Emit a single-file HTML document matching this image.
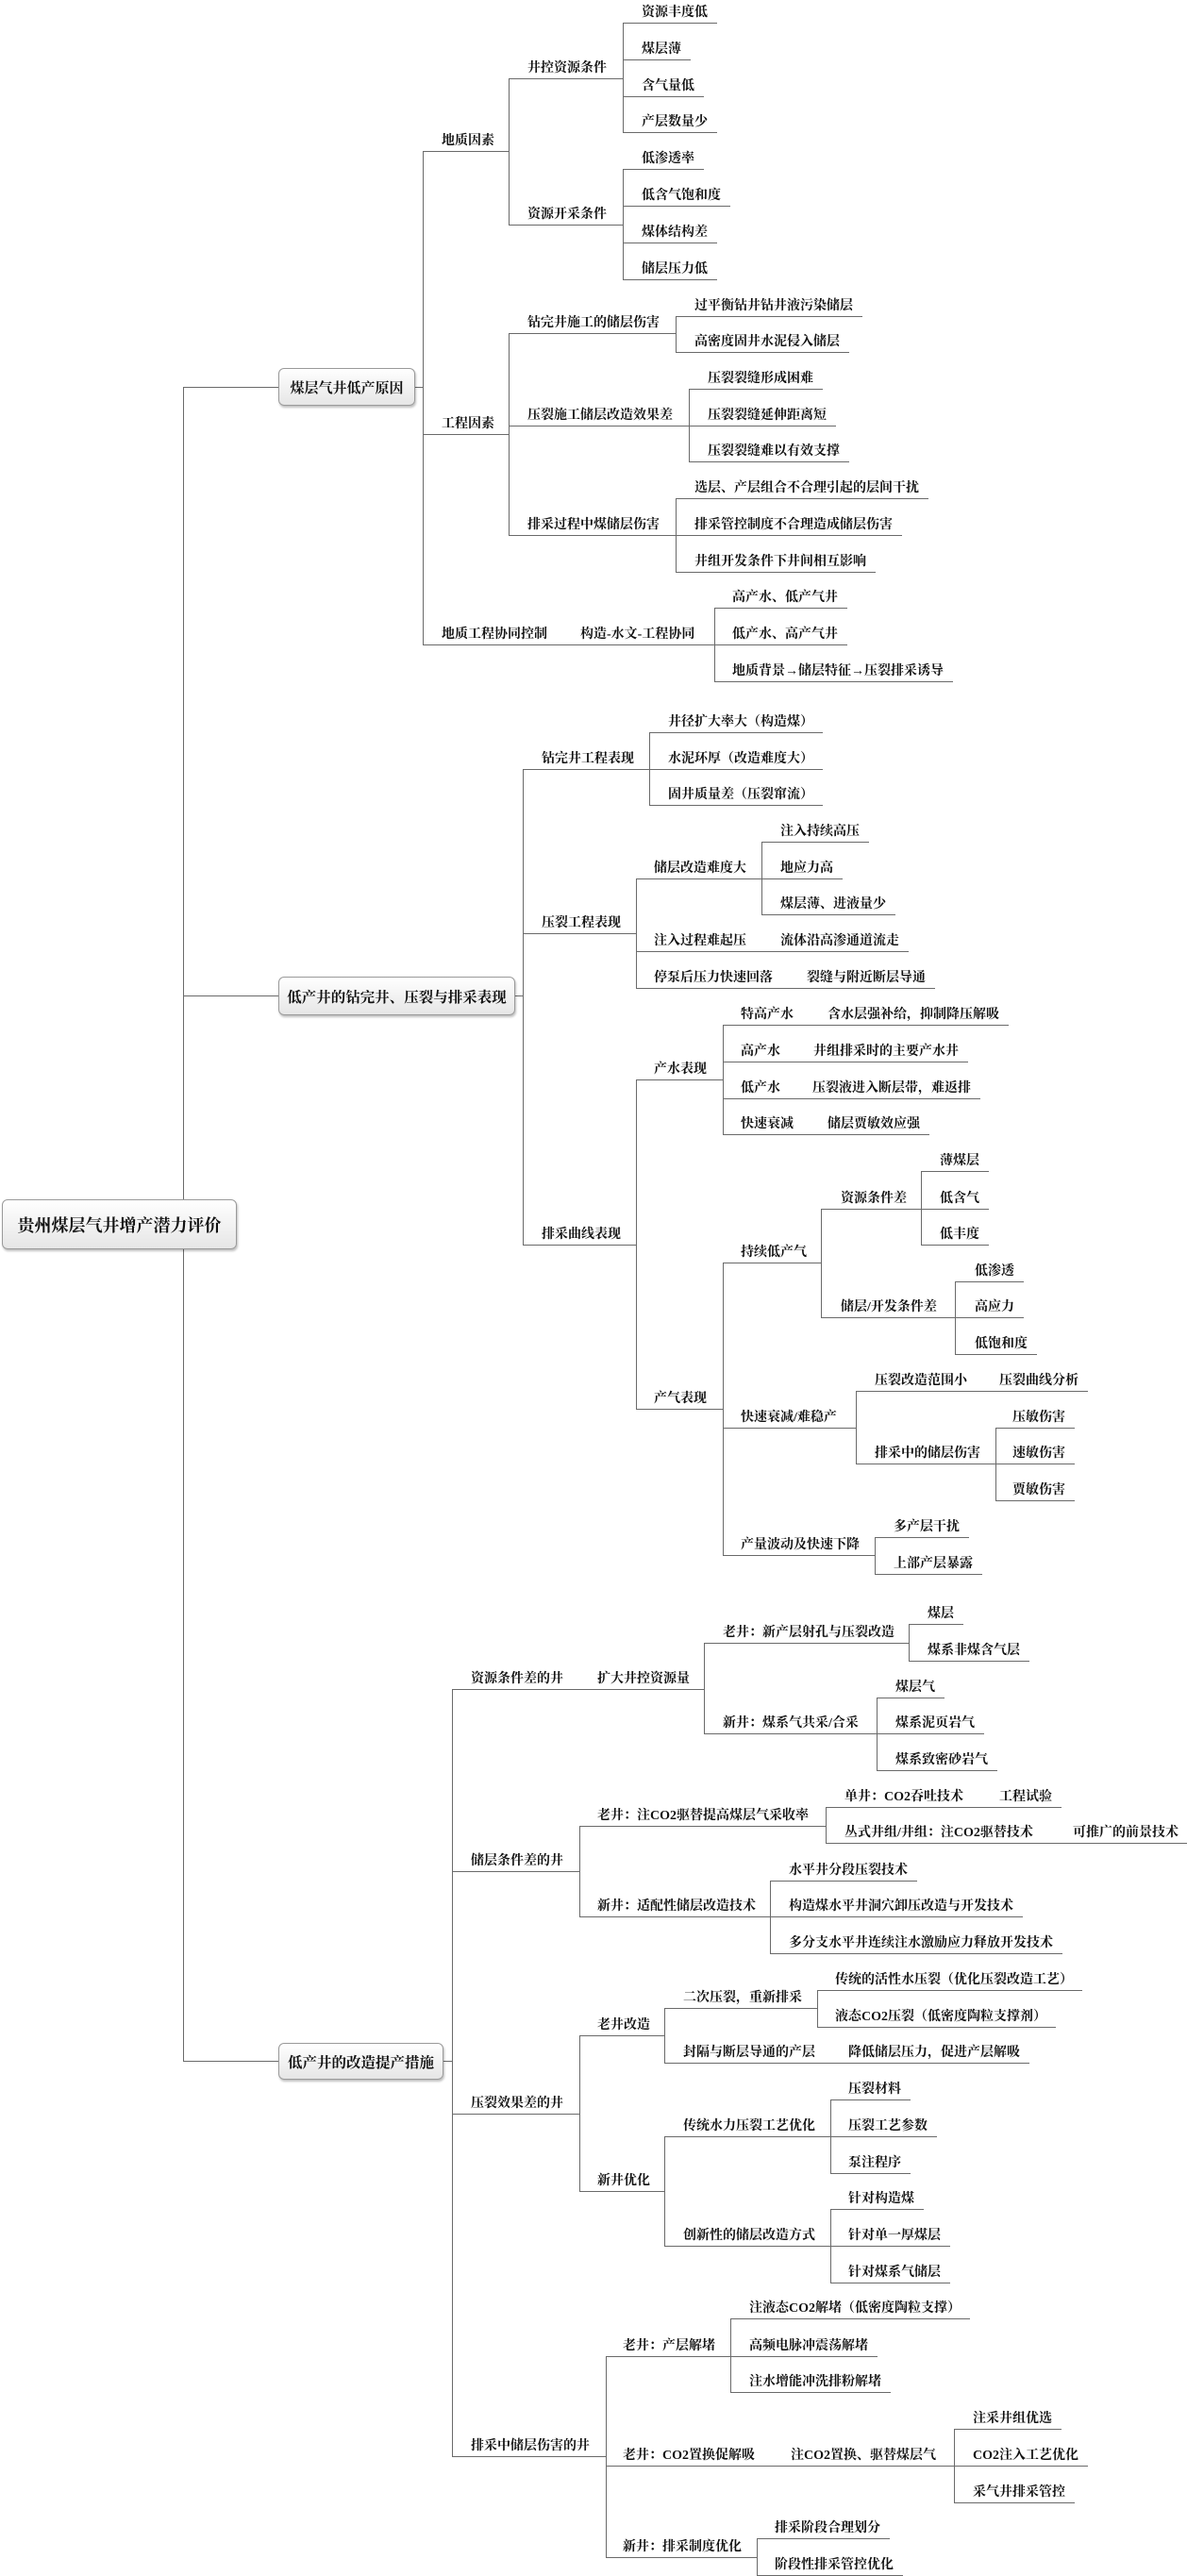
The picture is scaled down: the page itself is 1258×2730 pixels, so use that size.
<!DOCTYPE html>
<html><head><meta charset="utf-8">
<style>
html,body{margin:0;padding:0;background:#fff;}
body{width:1258px;height:2730px;position:relative;overflow:hidden;font-family:"Liberation Serif","Noto Serif CJK SC",serif;color:#111;}
.ln{position:absolute;height:20px;border-bottom:1px solid #6a6a6a;font-size:14px;font-weight:700;line-height:19px;white-space:nowrap;}
.ln span{position:absolute;top:0;}
.v{position:absolute;width:0;border-left:1px solid #6a6a6a;}
.h{position:absolute;height:0;border-top:1px solid #6a6a6a;}
.box{position:absolute;box-sizing:border-box;border:1px solid #9a9a9a;border-radius:6px;background:linear-gradient(#ffffff,#e6e6e6);box-shadow:1px 2px 2px rgba(0,0,0,0.25);display:flex;align-items:center;justify-content:center;font-weight:700;white-space:nowrap;}
</style></head><body>
<div class="v" style="left:194px;top:410px;height:1774px"></div>
<div class="h" style="left:194px;top:410px;width:101px"></div>
<div class="h" style="left:194px;top:1055px;width:101px"></div>
<div class="h" style="left:194px;top:2184px;width:101px"></div>
<div class="h" style="left:440px;top:410px;width:8px"></div>
<div class="h" style="left:546px;top:1055px;width:8px"></div>
<div class="h" style="left:470px;top:2184px;width:9px"></div>
<div class="box" style="left:2px;top:1271px;width:249px;height:53px;font-size:18px">贵州煤层气井增产潜力评价</div>
<div class="box" style="left:295px;top:390px;width:145px;height:40px;font-size:15px">煤层气井低产原因</div>
<div class="box" style="left:295px;top:1035px;width:251px;height:41px;font-size:15.5px">低产井的钻完井、压裂与排采表现</div>
<div class="box" style="left:295px;top:2165px;width:175px;height:39px;font-size:15.5px">低产井的改造提产措施</div>
<script>
function L(t,x,y,t2,x2){return {t:t,x:x,y:y,t2:t2,x2:x2};}
function P(t,x,y,vx,c,t2,x2){return {t:t,x:x,y:y,vx:vx,c:c,t2:t2,x2:x2};}
var A1=[
 P('地质因素',468,160,539,[
  P('井控资源条件',559,83,660,[L('资源丰度低',680,24),L('煤层薄',680,63),L('含气量低',680,102),L('产层数量少',680,140)]),
  P('资源开采条件',559,238,660,[L('低渗透率',680,179),L('低含气饱和度',680,218),L('煤体结构差',680,257),L('储层压力低',680,296)])]),
 P('工程因素',468,460,539,[
  P('钻完井施工的储层伤害',559,353,716,[L('过平衡钻井钻井液污染储层',736,335),L('高密度固井水泥侵入储层',736,373)]),
  P('压裂施工储层改造效果差',559,451,730,[L('压裂裂缝形成困难',750,412),L('压裂裂缝延伸距离短',750,451),L('压裂裂缝难以有效支撑',750,489)]),
  P('排采过程中煤储层伤害',559,567,716,[L('选层、产层组合不合理引起的层间干扰',736,528),L('排采管控制度不合理造成储层伤害',736,567),L('井组开发条件下井间相互影响',736,606)])]),
 P('地质工程协同控制',468,683,757,[L('高产水、低产气井',776,644),L('低产水、高产气井',776,683),L('地质背景→储层特征→压裂排采诱导',776,722)],'构造-水文-工程协同',615)
];
var A2=[
 P('钻完井工程表现',574,815,688,[L('井径扩大率大（构造煤）',708,776),L('水泥环厚（改造难度大）',708,815),L('固井质量差（压裂窜流）',708,853)]),
 P('压裂工程表现',574,989,674,[
  P('储层改造难度大',693,931,807,[L('注入持续高压',827,892),L('地应力高',827,931),L('煤层薄、进液量少',827,969)]),
  L('注入过程难起压',693,1008,'流体沿高渗通道流走',827),
  L('停泵后压力快速回落',693,1047,'裂缝与附近断层导通',855)]),
 P('排采曲线表现',574,1319,674,[
  P('产水表现',693,1144,766,[L('特高产水',785,1086,'含水层强补给，抑制降压解吸',877),L('高产水',785,1125,'井组排采时的主要产水井',862),L('低产水',785,1164,'压裂液进入断层带，难返排',861),L('快速衰减',785,1202,'储层贾敏效应强',877)]),
  P('产气表现',693,1493,766,[
   P('持续低产气',785,1338,870,[
    P('资源条件差',891,1281,976,[L('薄煤层',996,1241),L('低含气',996,1281),L('低丰度',996,1319)]),
    P('储层/开发条件差',891,1396,1012,[L('低渗透',1033,1358),L('高应力',1033,1396),L('低饱和度',1033,1435)])]),
   P('快速衰减/难稳产',785,1513,907,[
    L('压裂改造范围小',927,1474,'压裂曲线分析',1059),
    P('排采中的储层伤害',927,1551,1055,[L('压敏伤害',1073,1513),L('速敏伤害',1073,1551),L('贾敏伤害',1073,1590)])]),
   P('产量波动及快速下降',785,1648,927,[L('多产层干扰',947,1629),L('上部产层暴露',947,1668)])])])
];
var A3=[
 P('资源条件差的井',499,1790,746,[
  P('老井：新产层射孔与压裂改造',766,1741,963,[L('煤层',983,1721),L('煤系非煤含气层',983,1760)]),
  P('新井：煤系气共采/合采',766,1837,929,[L('煤层气',949,1799),L('煤系泥页岩气',949,1837),L('煤系致密砂岩气',949,1876)])],'扩大井控资源量',633),
 P('储层条件差的井',499,1983,614,[
  P('老井：注CO2驱替提高煤层气采收率',633,1935,875,[L('单井：CO2吞吐技术',895,1915,'工程试验',1059),L('丛式井组/井组：注CO2驱替技术',895,1953,'可推广的前景技术',1137)]),
  P('新井：适配性储层改造技术',633,2031,816,[L('水平井分段压裂技术',836,1993),L('构造煤水平井洞穴卸压改造与开发技术',836,2031),L('多分支水平井连续注水激励应力释放开发技术',836,2070)])]),
 P('压裂效果差的井',499,2240,614,[
  P('老井改造',633,2157,704,[
   P('二次压裂，重新排采',724,2128,866,[L('传统的活性水压裂（优化压裂改造工艺）',885,2109),L('液态CO2压裂（低密度陶粒支撑剂）',885,2148)]),
   L('封隔与断层导通的产层',724,2186,'降低储层压力，促进产层解吸',899)]),
  P('新井优化',633,2322,704,[
   P('传统水力压裂工艺优化',724,2264,880,[L('压裂材料',899,2225),L('压裂工艺参数',899,2264),L('泵注程序',899,2303)]),
   P('创新性的储层改造方式',724,2380,880,[L('针对构造煤',899,2341),L('针对单一厚煤层',899,2380),L('针对煤系气储层',899,2419)])])]),
 P('排采中储层伤害的井',499,2603,642,[
  P('老井：产层解堵',660,2497,774,[L('注液态CO2解堵（低密度陶粒支撑）',794,2457),L('高频电脉冲震荡解堵',794,2497),L('注水增能冲洗排粉解堵',794,2535)]),
  P('老井：CO2置换促解吸',660,2613,1011,[L('注采井组优选',1031,2574),L('CO2注入工艺优化',1031,2613),L('采气井排采管控',1031,2652)],'注CO2置换、驱替煤层气',838),
  P('新井：排采制度优化',660,2710,802,[L('排采阶段合理划分',821,2690),L('阶段性排采管控优化',821,2729)])])
];
function draw(nodes,vx){
 var ys=nodes.map(function(n){return n.y;});
 var mn=Math.min.apply(null,ys),mx=Math.max.apply(null,ys);
 var v=document.createElement('div');v.className='v';
 v.style.left=vx+'px';v.style.top=mn+'px';v.style.height=(mx-mn)+'px';
 document.body.appendChild(v);
 nodes.forEach(function(n){
  var d=document.createElement('div');d.className='ln';
  d.style.left=vx+'px';d.style.top=(n.y-20)+'px';
  var s=document.createElement('span');s.textContent=n.t;s.style.left=(n.x-vx)+'px';d.appendChild(s);
  var last=s,lastx=n.x-vx;
  if(n.t2){var s2=document.createElement('span');s2.textContent=n.t2;s2.style.left=(n.x2-vx)+'px';d.appendChild(s2);last=s2;lastx=n.x2-vx;}
  document.body.appendChild(d);
  if(n.c){d.style.width=(n.vx-vx)+'px';draw(n.c,n.vx);}
  else{d.style.width=(lastx+last.offsetWidth+10)+'px';}
 });
}
draw(A1,448);draw(A2,554);draw(A3,479);
</script>
</body></html>
